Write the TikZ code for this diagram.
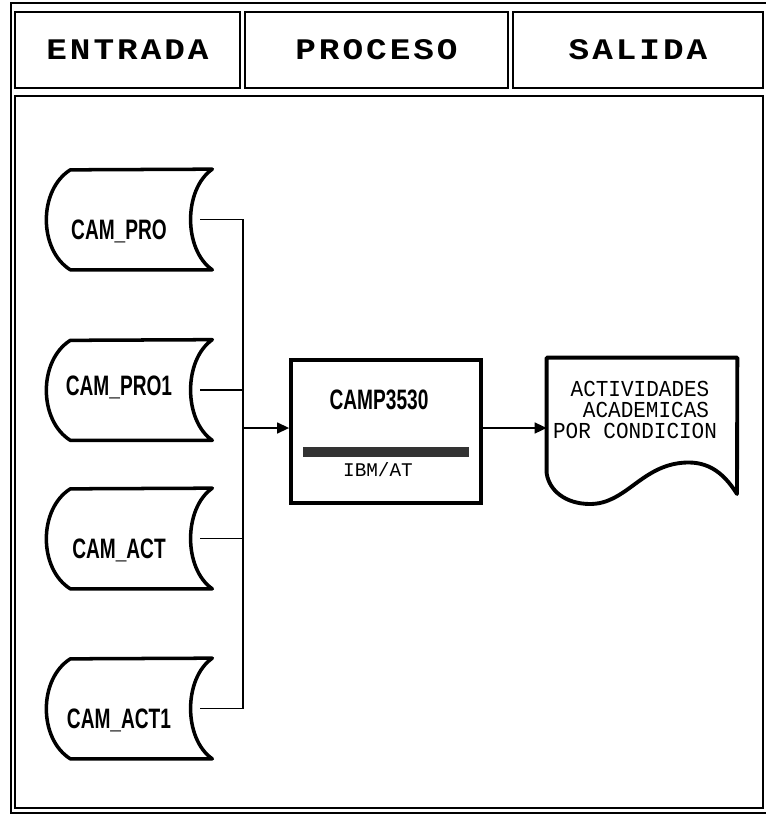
\documentclass[tikz,border=0pt]{standalone}
\usepackage{fontspec}
\usetikzlibrary{arrows.meta}
\newfontfamily\headfont[FakeStretch=1.15,LetterSpace=10]{Liberation Mono}
\newfontfamily\namefont[FakeStretch=0.68]{Liberation Sans}
\newfontfamily\monofont[FakeStretch=0.92]{Liberation Mono}
\newfontfamily\plainmono{Liberation Mono}

\begin{document}
\begin{tikzpicture}[
    x=0.02cm, y=-0.02cm,
    frame/.style={line width=0.8pt},
    cell/.style={rectangle, draw, line width=0.8pt, minimum height=1.52cm, inner sep=0pt, font=\headfont\bfseries\fontsize{17}{20}\selectfont},
    store/.style={minimum width=3.32cm, minimum height=2cm, inner sep=0pt, text height=#1, text depth=0.1cm,
        execute at begin node={\hspace*{-0.4cm}}, font=\namefont\bfseries\fontsize{16}{18}\selectfont},
    store/.default=0.9cm,
    outline/.style={line width=2pt, line join=round},
    reportline/.style={inner sep=0pt, font=\monofont\fontsize{13}{14}\selectfont},
    wire/.style={line width=0.8pt},
    flow/.style={->, >={Triangle[length=0.24cm,width=0.22cm]}, line width=0.8pt}
]
\useasboundingbox (0,0) rectangle (765,815);

% ===== FRAMES =====
\draw[frame] (11,3) rectangle (769,813);
\draw[frame] (15,96) rectangle (763,808);

% ===== HEADER =====
\node[cell, minimum width=4.5cm] (entrada) at (127.5,50) {ENTRADA};
\node[cell, minimum width=5.26cm] (proceso) at (376.5,50) {PROCESO};
\node[cell, minimum width=5cm] (salida) at (638,50) {SALIDA};

% ===== INPUT FILES =====
\node[store] (campro) at (129,219.5) {CAM\_PRO};
\node[store=0.3cm] (campro1) at (129,390) {CAM\_PRO1};
\node[store] (camact) at (129,538.5) {CAM\_ACT};
\node[store] (camact1) at (129,708.5) {CAM\_ACT1};

\draw[outline] (campro.north east) .. controls +(-29,20) and +(-29,-20) .. (campro.south east) -- ++(-142,0) .. controls +(-32,-20) and +(-32,20) .. ++(0,-100) -- cycle;
\draw[outline] (campro1.north east) .. controls +(-29,20) and +(-29,-20) .. (campro1.south east) -- ++(-142,0) .. controls +(-32,-20) and +(-32,20) .. ++(0,-100) -- cycle;
\draw[outline] (camact.north east) .. controls +(-29,20) and +(-29,-20) .. (camact.south east) -- ++(-142,0) .. controls +(-32,-20) and +(-32,20) .. ++(0,-100) -- cycle;
\draw[outline] (camact1.north east) .. controls +(-29,20) and +(-29,-20) .. (camact1.south east) -- ++(-142,0) .. controls +(-32,-20) and +(-32,20) .. ++(0,-100) -- cycle;

% ===== PROCESS =====
\node[draw, line width=2.2pt, minimum width=3.8cm, minimum height=2.86cm] (camp) at (386,431.5) {};
\node[font=\namefont\bfseries\fontsize{16}{18}\selectfont, inner sep=0pt] (camptitle) at (379,400) {CAMP3530};
\node[fill=black!80, minimum width=3.32cm, minimum height=0.19cm, inner sep=0pt] (campbar) at (386,452) {};
\node[font=\plainmono\fontsize{11}{12}\selectfont, inner sep=0pt] (campmachine) at (378,470) {IBM/AT};

% ===== OUTPUT =====
\node[minimum width=3.8cm, minimum height=2.3cm, inner sep=0pt] (report) at (642,415.5) {};
\node[reportline] (rline1) at (640,389) {ACTIVIDADES};
\node[reportline] (rline2) at (646,410) {ACADEMICAS};
\node[reportline] (rline3) at (635,431) {POR CONDICION};
\draw[outline, line width=2.2pt] (report.south west) |- (report.north east) -- (737,494) .. controls (722,470) and (705,460) .. (680,463) .. controls (640,468) and (625,504) .. (590,504) .. controls (565,504) and (549,490) .. cycle;

% ===== CONNECTORS =====
\coordinate (bus) at (243,428);
\draw[wire] ([xshift=-0.24cm]campro.east) -| (bus);
\draw[wire] ([xshift=-0.24cm]campro1.east) -| (bus);
\draw[wire] ([xshift=-0.24cm]camact.east) -| (bus);
\draw[wire] ([xshift=-0.24cm]camact1.east) -| (bus);
\draw[flow] (bus) -- (bus -| camp.west);
\draw[flow] (bus -| camp.east) -- (bus -| report.west);

\end{tikzpicture}
\end{document}
